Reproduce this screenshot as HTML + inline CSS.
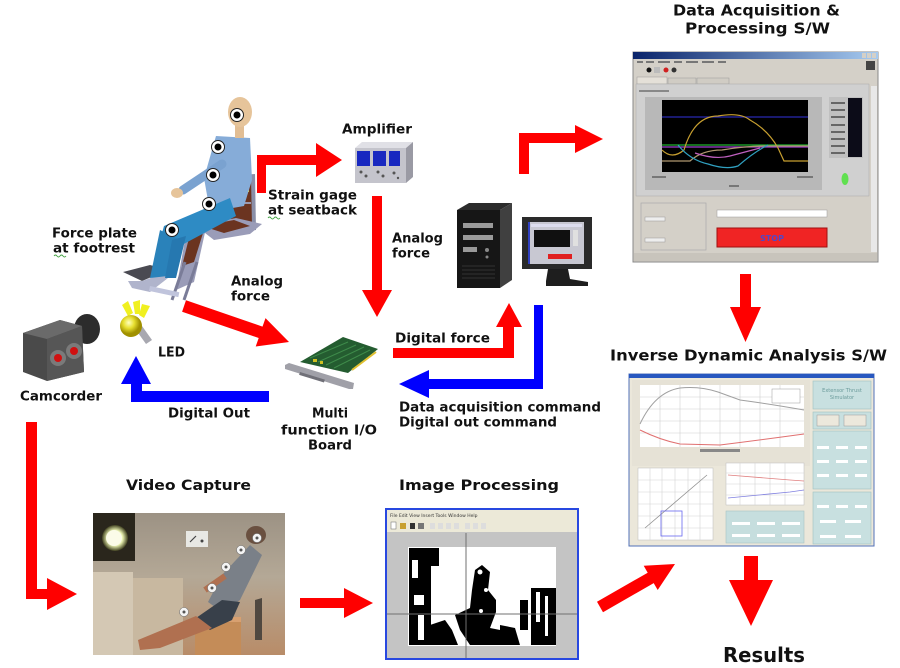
<!DOCTYPE html>
<html><head><meta charset="utf-8">
<style>
html,body{margin:0;padding:0;background:#fff;}
svg{display:block;}
.t{font-family:"DejaVu Sans","Liberation Sans",sans-serif;font-weight:bold;fill:#111;}
</style></head>
<body>
<svg width="900" height="668" viewBox="0 0 900 668" xmlns="http://www.w3.org/2000/svg">
<defs>
<linearGradient id="tb" x1="0" x2="1" y1="0" y2="0"><stop offset="0" stop-color="#0a246a"/><stop offset="1" stop-color="#a6caf0"/></linearGradient>
<linearGradient id="ph" x1="0" x2="0" y1="0" y2="1"><stop offset="0" stop-color="#9c9284"/><stop offset="0.45" stop-color="#b4a896"/><stop offset="1" stop-color="#b88c68"/></linearGradient>
<radialGradient id="glow"><stop offset="0" stop-color="#ffffe8"/><stop offset="0.6" stop-color="#e8f0b0"/><stop offset="1" stop-color="#404020"/></radialGradient>
<radialGradient id="bulb" cx="0.4" cy="0.35"><stop offset="0" stop-color="#ffffc0"/><stop offset="0.5" stop-color="#e8e030"/><stop offset="1" stop-color="#a09000"/></radialGradient>
</defs>

<!-- ================= TEXT LABELS ================= -->
<text class="t" x="673" y="15.5" font-size="15" textLength="167" lengthAdjust="spacingAndGlyphs">Data Acquisition &amp;</text>
<text class="t" x="685" y="33.5" font-size="15" textLength="145" lengthAdjust="spacingAndGlyphs">Processing S/W</text>
<text class="t" x="342" y="133.5" font-size="13" textLength="70" lengthAdjust="spacingAndGlyphs">Amplifier</text>
<text class="t" x="268" y="199.5" font-size="13" textLength="89" lengthAdjust="spacingAndGlyphs">Strain gage</text>
<text class="t" x="268" y="214.5" font-size="13" textLength="89" lengthAdjust="spacingAndGlyphs">at seatback</text>
<text class="t" x="52" y="237.5" font-size="13" textLength="85" lengthAdjust="spacingAndGlyphs">Force plate</text>
<text class="t" x="53" y="252.5" font-size="13" textLength="82" lengthAdjust="spacingAndGlyphs">at footrest</text>
<path d="M54,256 q1.5,-2 3,0 t3,0 t3,0 t3,0" stroke="#40a040" fill="none" stroke-width="0.9"/>
<path d="M268,218 q1.5,-2 3,0 t3,0 t3,0 t3,0" stroke="#40a040" fill="none" stroke-width="0.9"/>
<text class="t" x="392" y="242.5" font-size="13" textLength="51" lengthAdjust="spacingAndGlyphs">Analog</text>
<text class="t" x="392" y="257.5" font-size="13" textLength="38" lengthAdjust="spacingAndGlyphs">force</text>
<text class="t" x="231" y="285.5" font-size="13" textLength="52" lengthAdjust="spacingAndGlyphs">Analog</text>
<text class="t" x="231" y="300.5" font-size="13" textLength="39" lengthAdjust="spacingAndGlyphs">force</text>
<text class="t" x="158" y="356.5" font-size="13" textLength="27" lengthAdjust="spacingAndGlyphs">LED</text>
<text class="t" x="20" y="400.5" font-size="13" textLength="82" lengthAdjust="spacingAndGlyphs">Camcorder</text>
<text class="t" x="168" y="417.5" font-size="13" textLength="82" lengthAdjust="spacingAndGlyphs">Digital Out</text>
<text class="t" x="312" y="417.5" font-size="13" textLength="36" lengthAdjust="spacingAndGlyphs">Multi</text>
<text class="t" x="281" y="434.5" font-size="13" textLength="96" lengthAdjust="spacingAndGlyphs">function I/O</text>
<text class="t" x="308" y="449.5" font-size="13" textLength="44" lengthAdjust="spacingAndGlyphs">Board</text>
<text class="t" x="395" y="342.5" font-size="13" textLength="95" lengthAdjust="spacingAndGlyphs">Digital force</text>
<text class="t" x="399" y="411.5" font-size="13" textLength="202" lengthAdjust="spacingAndGlyphs">Data acquisition command</text>
<text class="t" x="399" y="426.5" font-size="13" textLength="158" lengthAdjust="spacingAndGlyphs">Digital out command</text>
<text class="t" x="610" y="360.5" font-size="15" textLength="277" lengthAdjust="spacingAndGlyphs">Inverse Dynamic Analysis S/W</text>
<text class="t" x="126" y="490" font-size="14" textLength="125" lengthAdjust="spacingAndGlyphs">Video Capture</text>
<text class="t" x="399" y="490" font-size="14" textLength="160" lengthAdjust="spacingAndGlyphs">Image Processing</text>
<text class="t" x="723" y="662" font-size="20" textLength="82" lengthAdjust="spacingAndGlyphs">Results</text>

<!-- ================= ARROWS ================= -->
<g fill="#ff0000">
<polygon points="257,193 257,155 316,155 316,143 342,160 316,177 316,165 266,165 266,193"/>
<polygon points="372,196 382,196 382,290 392,290 377,317 362,290 372,290"/>
<polygon points="186,300.3 262.5,326.6 265.5,318.1 289,342 255.7,346.5 258.7,338 182.1,311.7"/>
<polygon points="393,348 503,348 503,327 496,327 509,303 522,327 514,327 514,358 393,358"/>
<polygon points="519,174 519,133 575,133 575,125 603,139 575,153 575,143 529,143 529,174"/>
<polygon points="740,274 751,274 751,307 761,307 745.5,342 730,307 740,307"/>
<polygon points="26,422 37,422 37,589 47,589 47,578 77,594 47,610 47,599 26,599"/>
<polygon points="300,598 344,598 344,588 373,603 344,618 344,608 300,608"/>
<polygon points="597,601.8 647.7,572.7 643.7,565.8 675,564 657.7,590 653.7,583.1 603,612.2"/>
<polygon points="744,556 758,556 758,580 773,580 751,626 729,580 744,580"/>
</g>
<g fill="#0000ff">
<polygon points="534,305 543,305 543,389 429,389 429,398 399,384 429,370 429,379 534,379"/>
<polygon points="269,391 142,391 142,384 151,384 136,356 121,384 131,384 131,402 269,402"/>
</g>

<!-- ================= DUMMY + CHAIR ================= -->
<g>
<!-- chair frame -->
<polygon points="226,176 255,174 256,230 228,234" fill="#8a8fa8"/>
<polygon points="230,180 251,178 252,226 231,229" fill="#6b3420"/>
<rect x="231" y="202" width="20" height="2" fill="#9a9ab0"/>
<rect x="236" y="182" width="4" height="10" fill="#f0e020"/>
<rect x="245" y="182" width="4" height="10" fill="#f0e020"/>
<polygon points="196,226 236,218 262,224 250,234 214,240" fill="#9a9cb8"/>
<polygon points="202,226 234,220 250,226 224,233" fill="#6b3420"/>
<polygon points="186,234 206,228 194,282 176,290" fill="#9a9cb8"/>
<polygon points="189,238 203,233 194,262 182,266" fill="#6b3420"/>
<line x1="185" y1="262" x2="172" y2="300" stroke="#7a7c98" stroke-width="3"/>
<line x1="197" y1="262" x2="184" y2="300" stroke="#7a7c98" stroke-width="3"/>
<!-- footplate -->
<polygon points="123,272 150,265 168,270 142,281" fill="#4a4a52"/>
<polygon points="128,281 142,281 168,272 168,278 150,292 132,288" fill="#b0b4cc"/>
<rect x="150" y="286" width="30" height="5" fill="#c0c4dc" transform="rotate(12 150 286)"/>
<!-- torso -->
<polygon points="216,136 250,138 252,180 244,206 210,212 204,178" fill="#86acd8"/>
<!-- arm -->
<line x1="222" y1="164" x2="183" y2="190" stroke="#7aa2d0" stroke-width="9" stroke-linecap="round"/>
<ellipse cx="177" cy="193" rx="6" ry="5" fill="#e6c49a"/>
<!-- legs -->
<polygon points="230,198 236,216 180,246 160,240 164,226" fill="#2e8bc4"/>
<polygon points="160,230 180,240 168,276 150,278" fill="#2a82ba"/>
<polygon points="172,240 186,236 176,278 165,278" fill="#2678b0"/>
<!-- head -->
<rect x="235" y="124" width="9" height="14" fill="#e2be94"/>
<ellipse cx="240" cy="112" rx="12" ry="15" fill="#e6c49a"/>
<!-- markers -->
<g fill="#fff" stroke="#222" stroke-width="1">
<circle cx="237" cy="115" r="6.5"/><circle cx="218" cy="147" r="6.5"/><circle cx="213" cy="175" r="6.5"/><circle cx="209" cy="204" r="6.5"/><circle cx="172" cy="230" r="6.5"/>
</g>
<g fill="#000">
<circle cx="237" cy="115" r="3.5"/><circle cx="218" cy="147" r="3.5"/><circle cx="213" cy="175" r="3.5"/><circle cx="209" cy="204" r="3.5"/><circle cx="172" cy="230" r="3.5"/>
</g>
</g>

<!-- ================= AMPLIFIER ================= -->
<g>
<polygon points="355,148 362,142 413,142 406,148" fill="#e0e0e6"/>
<polygon points="406,148 413,142 413,177 406,183" fill="#9a9aa4"/>
<rect x="355" y="148" width="51" height="35" fill="#c4c4cc"/>
<rect x="357" y="151" width="13" height="15" fill="#1828c0"/>
<rect x="373" y="151" width="13" height="15" fill="#1828c0"/>
<rect x="389" y="151" width="11" height="15" fill="#1828c0"/>
<g fill="#555"><circle cx="361" cy="172" r="1.5"/><circle cx="366" cy="176" r="1.5"/><circle cx="378" cy="172" r="1.5"/><circle cx="383" cy="176" r="1.5"/><circle cx="394" cy="173" r="1.5"/><circle cx="398" cy="178" r="1.2"/></g>
</g>

<!-- ================= COMPUTER ================= -->
<g>
<polygon points="457,210 469,203 512,203 500,210" fill="#2c2c2c"/>
<polygon points="500,210 512,203 512,280 500,288" fill="#404040"/>
<rect x="457" y="210" width="43" height="78" fill="#161616"/>
<rect x="463" y="223" width="30" height="5" fill="#9a9a9a"/>
<rect x="463" y="235" width="30" height="5" fill="#9a9a9a"/>
<rect x="463" y="247" width="14" height="5" fill="#9a9a9a"/>
<circle cx="487" cy="250" r="2" fill="#888"/><circle cx="487" cy="257" r="1.5" fill="#888"/>
<g stroke="#333" stroke-width="1"><line x1="462" y1="266" x2="495" y2="266"/><line x1="462" y1="270" x2="495" y2="270"/><line x1="462" y1="274" x2="495" y2="274"/><line x1="462" y1="278" x2="495" y2="278"/></g>
<!-- monitor -->
<rect x="522" y="217" width="70" height="52" fill="#2a2a2a"/>
<rect x="528" y="222" width="56" height="42" fill="#c8c8d2"/>
<rect x="528" y="222" width="2" height="42" fill="#3040c0"/>
<rect x="531" y="224" width="51" height="3" fill="#dde"/>
<rect x="534" y="230" width="36" height="17" fill="#101010"/>
<rect x="573" y="230" width="5" height="16" fill="#e0e0e0"/>
<rect x="548" y="254" width="24" height="5" fill="#e02020"/>
<polygon points="548,269 568,269 570,279 588,282 588,286 546,286 546,281" fill="#1e1e1e"/>
</g>

<!-- ================= I/O BOARD ================= -->
<g>
<polygon points="285,365 289,363 354,383 353,389 349,389 285,369" fill="#a0a0a8"/>
<polygon points="300,362 343,337 378,349 348,373" fill="#245c30"/>
<g stroke="#3e8a4a" stroke-width="1"><line x1="310" y1="358" x2="348" y2="342"/><line x1="318" y1="362" x2="356" y2="345"/><line x1="326" y1="365" x2="364" y2="347"/><line x1="334" y1="368" x2="370" y2="350"/></g>
<line x1="352" y1="370" x2="376" y2="352" stroke="#e0c030" stroke-width="2"/>
<rect x="313" y="359" width="4" height="3" fill="#d0c020"/><rect x="320" y="361" width="3" height="3" fill="#d0c020"/>
<rect x="300" y="372" width="26" height="3" fill="#707078" transform="rotate(17 300 372)"/>
</g>

<!-- ================= CAMCORDER ================= -->
<g>
<ellipse cx="87" cy="329" rx="13" ry="15" fill="#2c2c2c"/>
<polygon points="23,333 60,320 82,326 84,372 47,381 23,372" fill="#4a4a4a"/>
<polygon points="23,333 60,320 82,326 47,339" fill="#6a6a6a"/>
<polygon points="47,339 82,326 84,372 47,381" fill="#565656"/>
<circle cx="58" cy="358" r="8" fill="#7a7a7a"/><circle cx="58" cy="358" r="4" fill="#d01010"/>
<circle cx="74" cy="351" r="8" fill="#7a7a7a"/><circle cx="74" cy="351" r="4" fill="#d01010"/>
</g>

<!-- ================= LED ================= -->
<g>
<polygon points="122,305 128,301 133,313 128,316" fill="#f0f020"/>
<polygon points="133,302 140,300 140,314 135,314" fill="#f0f020"/>
<polygon points="142,304 150,306 144,318 139,315" fill="#f0f020"/>
<polygon points="136,330 142,326 152,340 146,344" fill="#a8a8b0"/>
<circle cx="131" cy="326" r="11" fill="url(#bulb)"/>
</g>

<!-- ================= SCREENSHOT 1 ================= -->
<g>
<rect x="633" y="52" width="245" height="210" fill="#d4d0c8" stroke="#888" stroke-width="1"/>
<rect x="633" y="52" width="245" height="7" fill="url(#tb)"/>
<rect x="862" y="53" width="4" height="5" fill="#d4d0c8"/><rect x="867" y="53" width="4" height="5" fill="#d4d0c8"/><rect x="872" y="53" width="4" height="5" fill="#d4d0c8"/>
<g fill="#777"><rect x="637" y="61" width="6" height="2"/><rect x="646" y="61" width="8" height="2"/><rect x="658" y="61" width="12" height="2"/><rect x="674" y="61" width="8" height="2"/><rect x="686" y="61" width="12" height="2"/><rect x="702" y="61" width="12" height="2"/><rect x="718" y="61" width="8" height="2"/></g>
<circle cx="649" cy="70" r="2.5" fill="#111"/><rect x="654" y="67" width="6" height="6" fill="#bbb"/><circle cx="666" cy="70" r="2.5" fill="#d02020"/><circle cx="674" cy="70" r="2.5" fill="#333"/>
<rect x="866" y="61" width="9" height="9" fill="#444"/>
<rect x="637" y="77" width="30" height="7" fill="#e4e0d8" stroke="#999" stroke-width="0.5"/>
<rect x="668" y="78" width="28" height="6" fill="#d0ccc4" stroke="#999" stroke-width="0.5"/>
<rect x="697" y="78" width="32" height="6" fill="#d0ccc4" stroke="#999" stroke-width="0.5"/>
<rect x="636" y="84" width="233" height="112" fill="#d0d0d0" stroke="#aaa" stroke-width="0.5"/>
<rect x="639" y="90" width="30" height="2" fill="#888"/>
<rect x="645" y="97" width="177" height="93" fill="#b8b8b8"/>
<rect x="662" y="100" width="146" height="72" fill="#000"/>
<rect x="652" y="176" width="14" height="2" fill="#777"/><rect x="797" y="176" width="16" height="2" fill="#777"/><rect x="729" y="185" width="10" height="2" fill="#777"/>
<g fill="none" stroke-width="1.2">
<line x1="662" y1="117" x2="808" y2="117" stroke="#2828b0"/>
<line x1="662" y1="145" x2="808" y2="145" stroke="#20b030"/>
<line x1="662" y1="147" x2="808" y2="147" stroke="#a040d0"/>
<path d="M662,150 Q672,160 684,150 Q694,116 718,116 Q740,112 750,120 Q768,130 778,148 L784,161 L808,161" stroke="#c8a030"/>
<path d="M662,161 L690,161 Q702,150 722,150 Q745,146 765,146 L808,146" stroke="#b09870"/>
<path d="M678,145 Q690,160 708,164 Q726,170 738,166 Q754,152 768,145" stroke="#30a0c0"/>
<path d="M695,153 Q715,160 730,156 Q745,152 760,148" stroke="#c060c0"/>
</g>
<rect x="829" y="97" width="34" height="61" fill="#c0c0c0"/>
<rect x="848" y="98" width="14" height="59" fill="#0c0c18"/>
<g fill="#666"><rect x="831" y="102" width="14" height="2"/><rect x="831" y="109" width="14" height="2"/><rect x="831" y="116" width="14" height="2"/><rect x="831" y="124" width="14" height="2"/><rect x="831" y="131" width="14" height="2"/><rect x="831" y="138" width="14" height="2"/><rect x="831" y="145" width="14" height="2"/><rect x="831" y="152" width="14" height="2"/></g>
<ellipse cx="845" cy="179" rx="3.5" ry="6" fill="#60e050"/>
<rect x="638" y="200" width="232" height="52" fill="#d4d0c8"/>
<rect x="641" y="203" width="65" height="47" fill="none" stroke="#aaa" stroke-width="0.7"/>
<rect x="645" y="217" width="20" height="4" fill="#eee" stroke="#999" stroke-width="0.5"/>
<rect x="645" y="238" width="20" height="4" fill="#eee" stroke="#999" stroke-width="0.5"/>
<rect x="717" y="210" width="110" height="7" fill="#fff" stroke="#999" stroke-width="0.5"/>
<rect x="717" y="228" width="110" height="19" fill="#f02424" stroke="#a01010" stroke-width="1"/>
<text x="772" y="241" font-family="DejaVu Sans,sans-serif" font-weight="bold" font-size="8" fill="#5048c8" text-anchor="middle">STOP</text>
<rect x="871" y="86" width="6" height="166" fill="#e8e8e8"/>
<rect x="634" y="253" width="243" height="8" fill="#c8c4bc"/>
</g>

<!-- ================= SCREENSHOT 2 ================= -->
<g>
<rect x="629" y="374" width="245" height="172" fill="#ebe7da" stroke="#5070b8" stroke-width="1"/>
<rect x="629" y="374" width="245" height="4" fill="#2858c0"/>
<rect x="632" y="380" width="178" height="86" fill="#e6e2d6"/>
<rect x="640" y="385" width="164" height="62" fill="#fff"/>
<g stroke="#d0d0d0" stroke-width="0.6">
<line x1="660" y1="385" x2="660" y2="447"/><line x1="680" y1="385" x2="680" y2="447"/><line x1="700" y1="385" x2="700" y2="447"/><line x1="720" y1="385" x2="720" y2="447"/><line x1="740" y1="385" x2="740" y2="447"/><line x1="760" y1="385" x2="760" y2="447"/><line x1="780" y1="385" x2="780" y2="447"/>
<line x1="640" y1="397" x2="804" y2="397"/><line x1="640" y1="409" x2="804" y2="409"/><line x1="640" y1="421" x2="804" y2="421"/><line x1="640" y1="433" x2="804" y2="433"/>
</g>
<path d="M640,424 Q655,392 680,388 Q700,386 718,392 L740,400 Q770,404 804,410" fill="none" stroke="#a0a0a0" stroke-width="1"/>
<path d="M640,430 Q660,440 680,444 L720,445 Q760,440 804,434" fill="none" stroke="#e07070" stroke-width="1"/>
<rect x="772" y="389" width="28" height="14" fill="#fff" stroke="#999" stroke-width="0.5"/>
<rect x="700" y="449" width="40" height="3" fill="#888"/>
<rect x="638" y="468" width="75" height="72" fill="#fff" stroke="#bbb" stroke-width="0.5"/>
<g stroke="#d4d4d4" stroke-width="0.6">
<line x1="650" y1="468" x2="650" y2="540"/><line x1="662" y1="468" x2="662" y2="540"/><line x1="675" y1="468" x2="675" y2="540"/><line x1="688" y1="468" x2="688" y2="540"/><line x1="700" y1="468" x2="700" y2="540"/>
<line x1="638" y1="480" x2="713" y2="480"/><line x1="638" y1="492" x2="713" y2="492"/><line x1="638" y1="504" x2="713" y2="504"/><line x1="638" y1="516" x2="713" y2="516"/><line x1="638" y1="528" x2="713" y2="528"/>
</g>
<line x1="645" y1="528" x2="707" y2="475" stroke="#909090" stroke-width="0.8"/>
<rect x="661" y="511" width="21" height="25" fill="none" stroke="#6868f0" stroke-width="0.8"/>
<rect x="726" y="463" width="78" height="42" fill="#fff" stroke="#bbb" stroke-width="0.5"/>
<g stroke="#d4d4d4" stroke-width="0.6">
<line x1="740" y1="463" x2="740" y2="505"/><line x1="755" y1="463" x2="755" y2="505"/><line x1="770" y1="463" x2="770" y2="505"/><line x1="785" y1="463" x2="785" y2="505"/>
<line x1="726" y1="473" x2="804" y2="473"/><line x1="726" y1="484" x2="804" y2="484"/><line x1="726" y1="495" x2="804" y2="495"/>
</g>
<path d="M728,475 L790,480 L804,481" fill="none" stroke="#e08080" stroke-width="0.8"/>
<path d="M728,498 L790,492 L804,490" fill="none" stroke="#8080e0" stroke-width="0.8"/>
<rect x="726" y="511" width="78" height="32" fill="#c6dede" stroke="#a8c4c4" stroke-width="0.6"/>
<g fill="#fff"><rect x="732" y="522" width="18" height="3"/><rect x="757" y="522" width="18" height="3"/><rect x="782" y="522" width="18" height="3"/><rect x="732" y="534" width="18" height="3"/><rect x="757" y="534" width="18" height="3"/><rect x="782" y="534" width="18" height="3"/></g>
<g fill="#c8e0e0" stroke="#a0c0c0" stroke-width="0.6">
<rect x="813" y="381" width="58" height="28"/><rect x="813" y="412" width="58" height="17"/><rect x="813" y="431" width="58" height="58"/><rect x="813" y="492" width="58" height="52"/>
</g>
<text x="842" y="392" font-family="DejaVu Sans,sans-serif" font-size="5" fill="#6a9a9a" text-anchor="middle">Extensor Thrust</text>
<text x="842" y="399" font-family="DejaVu Sans,sans-serif" font-size="5" fill="#6a9a9a" text-anchor="middle">Simulator</text>
<rect x="817" y="415" width="22" height="11" fill="#ece8dc" stroke="#999" stroke-width="0.5"/>
<rect x="844" y="415" width="22" height="11" fill="#ece8dc" stroke="#999" stroke-width="0.5"/>
<g fill="#fff"><rect x="817" y="446" width="12" height="3"/><rect x="836" y="446" width="12" height="3"/><rect x="855" y="446" width="12" height="3"/><rect x="817" y="460" width="12" height="3"/><rect x="836" y="460" width="12" height="3"/><rect x="855" y="460" width="12" height="3"/><rect x="817" y="474" width="12" height="3"/><rect x="836" y="474" width="12" height="3"/><rect x="855" y="474" width="12" height="3"/><rect x="817" y="505" width="12" height="3"/><rect x="836" y="505" width="12" height="3"/><rect x="855" y="505" width="12" height="3"/><rect x="820" y="520" width="16" height="3"/><rect x="845" y="520" width="16" height="3"/><rect x="820" y="535" width="16" height="3"/><rect x="845" y="535" width="16" height="3"/></g>
</g>

<!-- ================= VIDEO PHOTO ================= -->
<g>
<rect x="93" y="513" width="192" height="142" fill="url(#ph)"/>
<rect x="93" y="572" width="40" height="83" fill="#d4c8b4"/>
<rect x="133" y="578" width="50" height="77" fill="#c8b8a0"/>
<rect x="93" y="513" width="42" height="48" fill="#2a261c"/>
<circle cx="115" cy="538" r="13" fill="url(#glow)"/>
<circle cx="114" cy="538" r="8" fill="#fbfbe8"/>
<rect x="186" y="531" width="22" height="16" fill="#e8e8e4"/>
<line x1="190" y1="542" x2="196" y2="536" stroke="#444" stroke-width="1.2"/><circle cx="202" cy="541" r="1.5" fill="#444"/>
<rect x="195" y="617" width="46" height="38" fill="#c48c58"/>
<rect x="195" y="617" width="46" height="5" fill="#d8a070"/>
<!-- person -->
<polygon points="250,545 262,555 240,600 222,612 208,602 222,575" fill="#7a8088"/>
<polygon points="222,600 240,602 232,620 210,630 196,618" fill="#38404a"/>
<polygon points="196,616 212,628 160,648 140,650 138,640" fill="#b07050"/>
<polygon points="255,600 262,598 262,640 255,640" fill="#504840"/>
<ellipse cx="256" cy="535" rx="10" ry="9" fill="#6a5040"/>
<line x1="225" y1="576" x2="205" y2="590" stroke="#b07050" stroke-width="6"/>
<g fill="#f4f4f4" stroke="#777" stroke-width="0.6">
<circle cx="257" cy="538" r="4.5"/><circle cx="241" cy="550" r="4.5"/><circle cx="226" cy="567" r="4.5"/><circle cx="212" cy="588" r="4.5"/><circle cx="184" cy="612" r="4.5"/>
</g>
<g fill="#555"><circle cx="257" cy="538" r="1.5"/><circle cx="241" cy="550" r="1.5"/><circle cx="226" cy="567" r="1.5"/><circle cx="212" cy="588" r="1.5"/><circle cx="184" cy="612" r="1.5"/></g>
</g>

<!-- ================= IMAGE PROCESSING WINDOW ================= -->
<g>
<rect x="386" y="509" width="192" height="150" fill="#c4c4c4" stroke="#2848e0" stroke-width="2"/>
<rect x="387" y="510" width="190" height="22" fill="#ece9d8"/>
<text x="390" y="517" font-family="DejaVu Sans,sans-serif" font-size="4.5" fill="#333">File  Edit  View  Insert  Tools  Window  Help</text>
<g fill="#666"><rect x="391" y="522" width="5" height="7" fill="#fff" stroke="#666" stroke-width="0.5"/><rect x="400" y="523" width="6" height="6" fill="#c8a030"/><rect x="410" y="523" width="5" height="6" fill="#333"/><rect x="418" y="523" width="6" height="6" fill="#777"/><rect x="430" y="523" width="5" height="6" fill="#ddd"/><rect x="438" y="523" width="5" height="6" fill="#ddd"/><rect x="446" y="523" width="5" height="6" fill="#ddd"/><rect x="454" y="523" width="5" height="6" fill="#ddd"/><rect x="465" y="523" width="5" height="6" fill="#ddd"/><rect x="473" y="523" width="5" height="6" fill="#ddd"/><rect x="481" y="523" width="5" height="6" fill="#ddd"/></g>
<rect x="408" y="547" width="148" height="99" fill="#fff"/>
<rect x="409" y="548" width="22" height="97" fill="#000"/>
<rect x="412" y="560" width="6" height="18" fill="#fff"/>
<rect x="414" y="595" width="10" height="10" fill="#fff"/>
<rect x="418" y="615" width="6" height="25" fill="#fff"/>
<rect x="431" y="548" width="8" height="18" fill="#000"/>
<rect x="531" y="588" width="25" height="57" fill="#000"/>
<rect x="536" y="592" width="4" height="30" fill="#fff"/>
<rect x="545" y="596" width="3" height="40" fill="#fff"/>
<rect x="520" y="600" width="8" height="30" fill="#000"/>
<polygon points="475,570 482,565 490,572 488,590 496,600 496,612 490,628 510,632 512,645 470,645 460,630 455,615 470,608 472,590" fill="#000"/>
<circle cx="480" cy="572" r="2.5" fill="#fff"/><circle cx="486" cy="590" r="2" fill="#fff"/><circle cx="481" cy="611" r="2" fill="#fff"/>
<polygon points="430,625 445,620 452,630 458,645 430,645" fill="#000"/>
<polygon points="500,625 515,628 520,645 500,645" fill="#000"/>
<line x1="466" y1="533" x2="466" y2="658" stroke="#707070" stroke-width="1"/>
<line x1="387" y1="614" x2="577" y2="614" stroke="#707070" stroke-width="1"/>
</g>
</svg>
</body></html>
